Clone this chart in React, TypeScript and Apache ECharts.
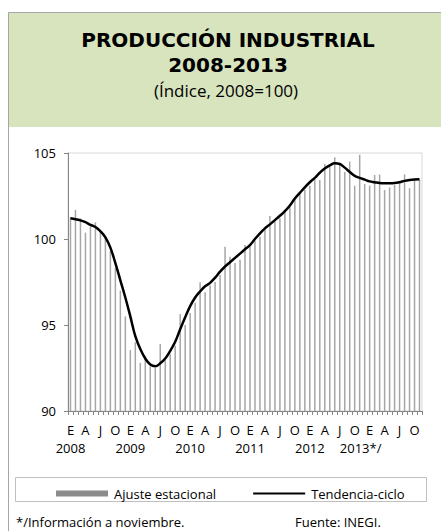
import React, { useEffect, useRef } from 'react';
import * as echarts from 'echarts';

const years = ['2008', '2009', '2010', '2011', '2012', '2013*/'];
const monthLetters = ['E', 'F', 'M', 'A', 'M', 'J', 'J', 'A', 'S', 'O', 'N', 'D'];
const monthsInLastYear = 11;

const ajusteEstacional = [
  101.26, 101.69, 101.2, 100.37, 100.72, 100.97, 100.52, 100.17, 99.3, 98.3, 97.0, 95.5,
  93.55, 94.0, 92.8, 93.2, 92.6, 92.5, 93.9, 93.0, 93.3, 93.8, 95.64, 95.0,
  95.7, 96.3, 97.48, 96.9, 97.3, 97.5, 97.9, 99.55, 98.97, 98.6, 98.8, 99.65,
  99.55, 99.9, 100.13, 100.52, 101.34, 101.0, 101.2, 101.6, 101.9, 102.3, 102.6, 102.85,
  103.1, 103.47, 103.43, 104.36, 104.2, 104.75, 104.3, 103.9, 104.5, 103.1, 104.9, 103.2,
  103.1, 103.72, 103.75, 102.85, 103.0, 103.14, 103.25, 103.76, 102.95, 103.4, 103.45,
];

const tendenciaCiclo = [
  101.2, 101.15, 101.08, 100.98, 100.82, 100.7, 100.45, 100.1, 99.5, 98.6, 97.6, 96.6,
  95.5, 94.35, 93.6, 93.05, 92.7, 92.6, 92.77, 93.05, 93.5, 94.03, 94.75, 95.45,
  96.1, 96.6, 96.95, 97.25, 97.45, 97.75, 98.1, 98.4, 98.65, 98.9, 99.15, 99.4,
  99.65, 100.0, 100.33, 100.62, 100.85, 101.1, 101.35, 101.62, 101.95, 102.35, 102.68, 103.0,
  103.3, 103.55, 103.85, 104.1, 104.28, 104.4, 104.36, 104.15, 103.9, 103.67, 103.55, 103.45,
  103.35, 103.3, 103.25, 103.24, 103.24, 103.25, 103.3, 103.38, 103.43, 103.46, 103.47,
];

const yTicks = { min: 90, max: 105, interval: 5 };

const categories: string[] = [];
years.forEach((y, yi) => {
  const n = yi === years.length - 1 ? monthsInLastYear : 12;
  for (let m = 0; m < n; m++) categories.push(`${y}|${m}`);
});

const FONT = '"Open Sans", sans-serif';
const TITLE_FONT = '"DejaVu Sans", sans-serif';

export default function App() {
  const ref = useRef<HTMLDivElement>(null);
  useEffect(() => {
    if (!ref.current) return;
    const chart = echarts.init(ref.current, undefined, { renderer: 'svg' });
    chart.setOption({
      animation: false,
      backgroundColor: '#ffffff',
      textStyle: { fontFamily: FONT },
      graphic: [
        {
          type: 'rect',
          shape: { x: 8.5, y: 12.5, width: 440, height: 114.5 },
          style: { fill: '#d7e4bd', stroke: 'none' },
          z: 0,
        },
        {
          type: 'line',
          shape: { x1: 8.5, y1: 12.5, x2: 441, y2: 12.5 },
          style: { stroke: '#a6a6a6', lineWidth: 1 },
        },
        {
          type: 'line',
          shape: { x1: 8.5, y1: 12.5, x2: 8.5, y2: 531 },
          style: { stroke: '#a6a6a6', lineWidth: 1 },
        },
        {
          type: 'text',
          x: 228,
          y: 52.5,
          style: {
            text: 'PRODUCCIÓN INDUSTRIAL\n2008-2013',
            font: `bold 20px ${TITLE_FONT}`,
            lineHeight: 25,
            fill: '#000',
            textAlign: 'center',
            textVerticalAlign: 'middle',
          },
        },
        {
          type: 'text',
          x: 226,
          y: 90,
          style: {
            text: '(Índice, 2008=100)',
            font: `17px ${FONT}`,
            lineHeight: 20,
            fill: '#000',
            textAlign: 'center',
            textVerticalAlign: 'middle',
          },
        },
        {
          type: 'rect',
          shape: { x: 15.5, y: 477.5, width: 411, height: 24 },
          style: { fill: 'none', stroke: '#bfbfbf', lineWidth: 1 },
        },
        {
          type: 'text',
          x: 16,
          y: 522,
          style: {
            text: '*/Información a noviembre.',
            font: `13px ${FONT}`,
            fill: '#000',
            textVerticalAlign: 'middle',
          },
        },
        {
          type: 'text',
          x: 295,
          y: 522,
          style: {
            text: 'Fuente: INEGI.',
            font: `13px ${FONT}`,
            fill: '#000',
            textVerticalAlign: 'middle',
          },
        },
      ],
      legend: {
        left: 51,
        top: 482,
        itemWidth: 52,
        itemHeight: 6,
        itemGap: 36,
        textStyle: { fontSize: 13, color: '#000', fontFamily: FONT, padding: [0, 0, 0, 1] },
        data: [
          { name: 'Ajuste estacional', icon: 'rect', itemStyle: { color: '#8c8c8c' } },
          {
            name: 'Tendencia-ciclo',
            itemStyle: { opacity: 0, color: 'transparent', borderColor: 'transparent', borderWidth: 0 },
            lineStyle: { color: '#000', width: 2, opacity: 1 },
          },
        ],
      },
      grid: {
        left: 68,
        top: 153,
        width: 354,
        height: 258,
        show: true,
        borderColor: '#d9d9d9',
        borderWidth: 1,
      },
      xAxis: [
        {
          type: 'category',
          data: categories,
          boundaryGap: true,
          axisLine: { lineStyle: { color: '#868686', width: 1 } },
          axisTick: { show: true, interval: 0, length: 4, lineStyle: { color: '#868686' } },
          axisLabel: {
            interval: (index: number) => index % 3 === 0,
            showMinLabel: true,
            margin: 11,
            lineHeight: 16,
            color: '#000',
            fontSize: 13,
            fontFamily: FONT,
            formatter: (value: string) => monthLetters[Number(value.split('|')[1])],
          },
          splitLine: { show: false },
        },
        {
          type: 'category',
          data: categories,
          boundaryGap: true,
          position: 'bottom',
          axisLine: { show: false },
          axisTick: { show: false },
          axisLabel: {
            interval: (index: number) => index % 12 === 0,
            showMinLabel: true,
            margin: 29,
            lineHeight: 16,
            color: '#000',
            fontSize: 13,
            fontFamily: FONT,
            formatter: (value: string) => {
              const y = value.split('|')[0];
              return y.length > 4 ? `{ys|${y}}` : y;
            },
            rich: {
              ys: { fontSize: 13, lineHeight: 16, color: '#000', fontFamily: FONT, padding: [0, 18, 0, 0] },
            },
          },
          splitLine: { show: false },
        },
      ],
      yAxis: {
        type: 'value',
        min: yTicks.min,
        max: yTicks.max,
        interval: yTicks.interval,
        axisLine: { show: true, lineStyle: { color: '#868686', width: 1 } },
        axisTick: { show: true, length: 4, lineStyle: { color: '#868686' } },
        axisLabel: { color: '#000', fontSize: 13, fontFamily: FONT, margin: 12 },
        splitLine: { show: false },
      },
      series: [
        {
          name: 'Ajuste estacional',
          type: 'bar',
          xAxisIndex: 0,
          data: ajusteEstacional,
          barWidth: 1.5,
          itemStyle: { color: '#a6a6a6' },
          z: 2,
        },
        {
          name: 'Tendencia-ciclo',
          type: 'line',
          xAxisIndex: 0,
          data: tendenciaCiclo,
          smooth: 0.4,
          symbol: 'none',
          showSymbol: false,
          lineStyle: { color: '#000', width: 2.5 },
          itemStyle: { color: '#000' },
          z: 3,
        },
      ],
    });
    return () => chart.dispose();
  }, []);
  return (
    <div
      ref={ref}
      style={{ position: 'fixed', left: 0, top: 0, width: 441, height: 531 }}
    />
  );
}
